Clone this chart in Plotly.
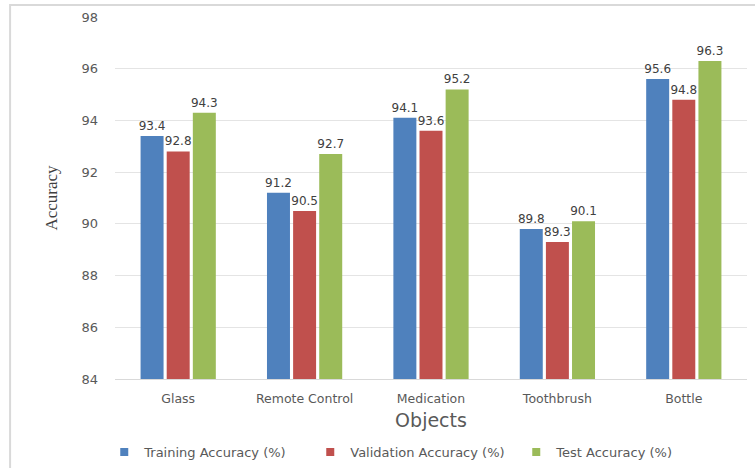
import plotly.graph_objects as go

categories = ["Glass", "Remote Control", "Medication", "Toothbrush", "Bottle"]
training = [93.4, 91.2, 94.1, 89.8, 95.6]
validation = [92.8, 90.5, 93.6, 89.3, 94.8]
test = [94.3, 92.7, 95.2, 90.1, 96.3]
series_names = ["Training Accuracy (%)", "Validation Accuracy (%)", "Test Accuracy (%)"]
colors = ["#4F81BD", "#C0504D", "#9BBB59"]

fig = go.Figure()
for name, vals, col in zip(series_names, [training, validation, test], colors):
    fig.add_trace(go.Bar(
        x=categories, y=vals, name=name, showlegend=False, legendgroup=name,
        marker=dict(color=col, line=dict(width=0)),
        text=[f"{v:.1f}" for v in vals], textposition="outside",
        textfont=dict(family="DejaVu Sans", size=12, color="#404040"),
        constraintext="none", cliponaxis=False,
    ))
# legend entries with small square keys
for name, col in zip(series_names, colors):
    fig.add_trace(go.Scatter(
        x=[None], y=[None], mode="markers", name=name, legendgroup=name,
        marker=dict(symbol="square", size=8, color=col),
    ))

fig.update_layout(
    width=755, height=468,
    margin=dict(l=115, r=8, t=17, b=89, autoexpand=False),
    paper_bgcolor="white", plot_bgcolor="white",
    barmode="group", bargap=0.38, bargroupgap=0.12,
    font=dict(family="DejaVu Sans", color="#595959"),
    showlegend=True,
    legend=dict(orientation="h", x=-0.017, xanchor="left", y=-0.202, yanchor="middle",
                font=dict(family="DejaVu Sans", size=13, color="#595959"),
                itemwidth=30, traceorder="normal",
                entrywidth=161, entrywidthmode="pixels"),
    xaxis=dict(
        title=dict(text="Objects", font=dict(family="DejaVu Sans", size=19, color="#595959"), standoff=8),
        tickfont=dict(family="DejaVu Sans", size=12.5, color="#595959"),
        showline=True, linecolor="#D9D9D9", linewidth=1, ticks="", showgrid=False,
        ticklabelstandoff=8, automargin=False,
    ),
    yaxis=dict(
        title=dict(text="Accuracy", font=dict(family="Liberation Serif", size=17, color="#404040"), standoff=19),
        range=[84, 98], dtick=2, tickfont=dict(family="DejaVu Sans", size=13, color="#595959"),
        showgrid=True, gridcolor="#E4E4E4", gridwidth=1, zeroline=False, ticks="",
        ticklabelstandoff=16, automargin=False,
    ),
)

fig.add_shape(type="rect", xref="paper", yref="paper",
              x0=-0.166, x1=1.04, y0=-0.32, y1=1.033,
              line=dict(color="#D9D9D9", width=2), layer="below")

fig.write_html("out.html")
